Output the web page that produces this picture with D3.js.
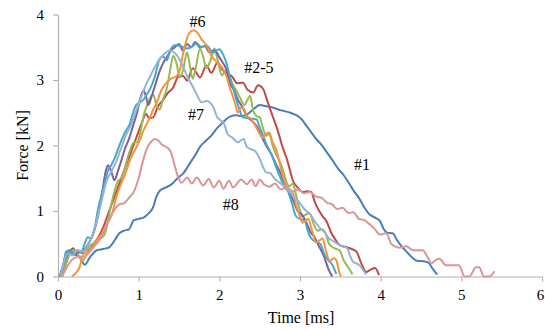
<!DOCTYPE html>
<html>
<head>
<meta charset="utf-8">
<script src="https://cdn.jsdelivr.net/npm/d3@7/dist/d3.min.js"></script>
<style>
  body { margin: 0; background: #fff; }
  text { font-family: "Liberation Serif", "Times New Roman", serif; fill: #000; }
</style>
</head>
<body>
<div id="chart"></div>
<script>
// force-time curves, [time ms, force kN]
var s1 = [[0.02,0],[0.08,0.22],[0.14,0.36],[0.2,0.34],[0.27,0.3],[0.33,0.18],[0.4,0.3],[0.48,0.4],[0.56,0.42],[0.64,0.45],[0.7,0.55],[0.76,0.66],[0.82,0.7],[0.88,0.72],[0.94,0.86],[1.0,0.88],[1.06,0.9],[1.12,0.96],[1.18,1.06],[1.22,1.22],[1.27,1.32],[1.34,1.36],[1.42,1.42],[1.48,1.5],[1.55,1.57],[1.63,1.72],[1.7,1.85],[1.76,1.98],[1.83,2.07],[1.9,2.15],[1.97,2.26],[2.05,2.36],[2.13,2.44],[2.21,2.46],[2.28,2.45],[2.34,2.47],[2.42,2.55],[2.5,2.62],[2.58,2.6],[2.66,2.58],[2.73,2.55],[2.79,2.53],[2.88,2.5],[2.96,2.46],[3.02,2.4],[3.08,2.3],[3.14,2.2],[3.2,2.1],[3.26,2.02],[3.33,1.9],[3.4,1.78],[3.47,1.65],[3.54,1.55],[3.61,1.42],[3.67,1.3],[3.73,1.2],[3.8,1.05],[3.86,0.95],[3.93,0.9],[3.99,0.85],[4.04,0.72],[4.08,0.67],[4.15,0.66],[4.2,0.56],[4.26,0.46],[4.32,0.38],[4.39,0.29],[4.45,0.24],[4.55,0.23],[4.6,0.2],[4.65,0.11],[4.7,0.03]];
var s2 = [[0.05,0],[0.1,0.2],[0.15,0.38],[0.19,0.43],[0.23,0.35],[0.28,0.38],[0.33,0.42],[0.38,0.4],[0.44,0.5],[0.5,0.6],[0.56,0.75],[0.62,0.95],[0.68,1.15],[0.74,1.35],[0.8,1.55],[0.86,1.75],[0.92,1.95],[0.98,2.15],[1.04,2.35],[1.09,2.48],[1.13,2.42],[1.18,2.43],[1.24,2.6],[1.3,2.69],[1.36,2.8],[1.43,2.89],[1.49,3.05],[1.55,3.06],[1.6,2.99],[1.67,3.18],[1.76,3.04],[1.84,3.22],[1.9,3.11],[1.98,3.27],[2.04,3.15],[2.1,3.1],[2.16,3.05],[2.22,2.95],[2.29,2.96],[2.35,2.85],[2.42,2.81],[2.48,2.92],[2.54,2.87],[2.6,2.66],[2.66,2.45],[2.71,2.28],[2.75,2.12],[2.79,1.95],[2.83,1.82],[2.87,1.65],[2.91,1.47],[2.97,1.36],[3.03,1.29],[3.09,1.3],[3.14,1.29],[3.18,1.15],[3.22,1.04],[3.28,0.92],[3.33,0.84],[3.39,0.66],[3.44,0.56],[3.49,0.48],[3.57,0.45],[3.64,0.42],[3.7,0.38],[3.76,0.2],[3.82,0.07],[3.87,0.1],[3.93,0.13],[3.98,0.02]];
var s3 = [[0.05,0],[0.1,0.2],[0.15,0.35],[0.2,0.4],[0.25,0.33],[0.3,0.24],[0.34,0.3],[0.38,0.45],[0.43,0.5],[0.48,0.55],[0.53,0.58],[0.58,0.65],[0.62,0.85],[0.66,1.1],[0.7,1.3],[0.74,1.45],[0.78,1.5],[0.82,1.62],[0.86,1.8],[0.9,1.95],[0.94,2.05],[0.98,2.05],[1.02,2.2],[1.06,2.45],[1.1,2.6],[1.14,2.72],[1.18,2.78],[1.22,2.62],[1.26,2.55],[1.3,2.7],[1.35,2.88],[1.39,3.15],[1.43,3.37],[1.47,3.25],[1.51,3.04],[1.55,3.15],[1.6,3.42],[1.63,3.25],[1.67,3.02],[1.71,3.2],[1.76,3.48],[1.8,3.35],[1.84,3.18],[1.89,3.3],[1.94,3.48],[1.98,3.3],[2.03,3.07],[2.08,3.15],[2.13,3.04],[2.17,2.92],[2.21,2.84],[2.26,2.72],[2.31,2.62],[2.35,2.7],[2.38,2.76],[2.42,2.53],[2.46,2.45],[2.5,2.43],[2.54,2.27],[2.58,2.15],[2.62,2.18],[2.66,2.0],[2.71,1.85],[2.75,1.75],[2.79,1.62],[2.83,1.45],[2.87,1.38],[2.91,1.42],[2.95,1.25],[2.99,1.05],[3.03,0.92],[3.08,0.95],[3.12,0.96],[3.17,0.8],[3.22,0.7],[3.27,0.72],[3.31,0.68],[3.36,0.5],[3.4,0.45],[3.45,0.42],[3.49,0.4],[3.54,0.25],[3.58,0.17],[3.62,0.1],[3.65,0.03]];
var s4 = [[0.02,0],[0.06,0.15],[0.1,0.35],[0.15,0.4],[0.2,0.33],[0.25,0.38],[0.3,0.36],[0.35,0.45],[0.4,0.55],[0.45,0.7],[0.5,0.95],[0.55,1.3],[0.59,1.6],[0.62,1.7],[0.66,1.6],[0.7,1.47],[0.74,1.6],[0.78,1.75],[0.83,1.95],[0.88,2.1],[0.93,2.3],[0.98,2.5],[1.02,2.72],[1.06,2.84],[1.09,2.75],[1.12,2.62],[1.16,2.75],[1.2,2.9],[1.25,3.1],[1.3,3.25],[1.35,3.35],[1.4,3.45],[1.45,3.5],[1.5,3.55],[1.55,3.45],[1.6,3.55],[1.65,3.5],[1.7,3.58],[1.76,3.5],[1.82,3.52],[1.88,3.42],[1.94,3.45],[2.0,3.35],[2.05,3.25],[2.09,3.15],[2.13,2.95],[2.18,2.85],[2.23,2.7],[2.29,2.58],[2.34,2.45],[2.4,2.38],[2.46,2.3],[2.52,2.15],[2.58,2.0],[2.64,1.88],[2.7,1.72],[2.75,1.6],[2.8,1.45],[2.86,1.3],[2.92,1.15],[2.97,1.0],[3.02,0.95],[3.08,0.82],[3.13,0.68],[3.18,0.6],[3.24,0.45],[3.3,0.3],[3.35,0.12],[3.4,0]];
var s5 = [[0.03,0],[0.07,0.2],[0.1,0.38],[0.14,0.4],[0.19,0.36],[0.24,0.4],[0.29,0.37],[0.33,0.5],[0.37,0.6],[0.41,0.58],[0.45,0.72],[0.5,1.05],[0.54,1.25],[0.58,1.43],[0.62,1.62],[0.66,1.7],[0.7,1.8],[0.77,2.03],[0.83,2.2],[0.89,2.33],[0.93,2.5],[0.97,2.62],[1.02,2.66],[1.06,2.7],[1.1,2.78],[1.14,2.86],[1.2,3.05],[1.26,3.32],[1.3,3.36],[1.35,3.3],[1.39,3.45],[1.45,3.53],[1.52,3.52],[1.59,3.48],[1.65,3.5],[1.72,3.56],[1.78,3.5],[1.84,3.53],[1.92,3.42],[2.0,3.47],[2.05,3.38],[2.09,3.25],[2.13,3.05],[2.17,2.88],[2.21,2.7],[2.25,2.55],[2.29,2.43],[2.34,2.42],[2.4,2.41],[2.46,2.4],[2.5,2.28],[2.54,2.16],[2.58,2.03],[2.62,1.93],[2.66,1.82],[2.71,1.65],[2.76,1.5],[2.8,1.38],[2.85,1.3],[2.9,1.12],[2.95,0.92],[3.0,0.88],[3.06,0.85],[3.1,0.68],[3.14,0.58],[3.2,0.53],[3.25,0.5],[3.3,0.35],[3.35,0.25],[3.4,0.18],[3.45,0.04]];
var s6 = [[0.17,0],[0.22,0.05],[0.27,0.15],[0.3,0.3],[0.33,0.36],[0.38,0.38],[0.42,0.44],[0.46,0.5],[0.5,0.58],[0.54,0.65],[0.58,0.75],[0.63,0.85],[0.67,0.96],[0.7,1.1],[0.73,1.24],[0.77,1.38],[0.8,1.47],[0.85,1.62],[0.89,1.77],[0.93,1.88],[0.97,1.97],[1.02,2.1],[1.06,2.23],[1.1,2.33],[1.14,2.43],[1.18,2.55],[1.22,2.64],[1.28,2.84],[1.34,2.95],[1.4,3.02],[1.46,3.05],[1.51,3.15],[1.55,3.4],[1.59,3.6],[1.63,3.72],[1.68,3.76],[1.73,3.72],[1.78,3.62],[1.84,3.53],[1.9,3.37],[1.97,3.27],[2.04,3.18],[2.09,3.05],[2.13,2.88],[2.17,2.74],[2.2,2.62],[2.23,2.5],[2.27,2.58],[2.31,2.55],[2.34,2.45],[2.4,2.4],[2.46,2.27],[2.5,2.18],[2.54,2.12],[2.58,2.18],[2.62,2.2],[2.66,2.05],[2.71,1.92],[2.75,1.72],[2.79,1.52],[2.83,1.38],[2.87,1.32],[2.91,1.28],[2.95,1.1],[2.99,0.95],[3.03,0.82],[3.07,0.85],[3.1,0.88],[3.15,0.7],[3.2,0.52],[3.24,0.55],[3.28,0.58],[3.32,0.4],[3.37,0.24],[3.42,0.28],[3.45,0.25],[3.49,0.05],[3.51,0]];
var s7 = [[0.03,0],[0.08,0.25],[0.12,0.35],[0.18,0.32],[0.24,0.4],[0.3,0.38],[0.36,0.45],[0.42,0.6],[0.48,0.85],[0.54,1.15],[0.6,1.45],[0.66,1.6],[0.72,1.75],[0.78,1.95],[0.84,2.15],[0.9,2.3],[0.96,2.5],[1.02,2.7],[1.08,2.9],[1.14,3.05],[1.2,3.2],[1.26,3.32],[1.32,3.4],[1.38,3.45],[1.44,3.42],[1.5,3.33],[1.55,3.2],[1.6,3.06],[1.67,2.9],[1.72,2.78],[1.78,2.66],[1.84,2.68],[1.92,2.6],[1.97,2.44],[2.02,2.38],[2.06,2.33],[2.1,2.18],[2.16,2.12],[2.23,2.05],[2.3,2.1],[2.34,1.98],[2.38,1.95],[2.44,1.92],[2.5,1.8],[2.54,1.68],[2.58,1.59],[2.63,1.58],[2.68,1.5],[2.75,1.43],[2.83,1.34],[2.88,1.28],[2.93,1.2],[2.98,1.15],[3.04,1.05],[3.08,1.0],[3.12,0.96],[3.18,0.85],[3.24,0.75],[3.3,0.68],[3.36,0.58],[3.4,0.55],[3.46,0.5],[3.52,0.46],[3.58,0.44],[3.62,0.32],[3.66,0.22],[3.7,0.2],[3.74,0.17],[3.78,0.1],[3.82,0.03]];
var s8 = [[0.05,0],[0.1,0.12],[0.17,0.25],[0.25,0.3],[0.32,0.3],[0.38,0.36],[0.45,0.46],[0.52,0.57],[0.58,0.72],[0.64,0.88],[0.7,1.02],[0.76,1.1],[0.82,1.12],[0.88,1.2],[0.95,1.32],[1.0,1.5],[1.05,1.75],[1.1,1.95],[1.15,2.05],[1.2,2.1],[1.24,2.08],[1.29,2.01],[1.35,1.97],[1.4,1.9],[1.44,1.72],[1.48,1.55],[1.53,1.43],[1.6,1.51],[1.66,1.42],[1.72,1.51],[1.8,1.39],[1.87,1.49],[1.93,1.36],[2.0,1.46],[2.05,1.34],[2.12,1.46],[2.17,1.36],[2.27,1.48],[2.34,1.41],[2.4,1.48],[2.45,1.38],[2.5,1.48],[2.56,1.4],[2.62,1.37],[2.69,1.42],[2.76,1.33],[2.84,1.36],[2.91,1.3],[2.98,1.33],[3.05,1.27],[3.12,1.29],[3.2,1.22],[3.27,1.2],[3.33,1.13],[3.4,1.1],[3.46,1.03],[3.53,1.05],[3.6,0.97],[3.66,0.98],[3.73,0.88],[3.8,0.86],[3.86,0.8],[3.93,0.72],[3.99,0.64],[4.07,0.66],[4.13,0.5],[4.18,0.46],[4.23,0.44],[4.32,0.46],[4.4,0.4],[4.52,0.4],[4.58,0.3],[4.63,0.2],[4.68,0.25],[4.73,0.27],[4.81,0.17],[4.97,0.17],[5.04,0],[5.1,0],[5.18,0.14],[5.22,0.14],[5.28,0],[5.35,0],[5.41,0.08]];

var seriesNames = ["#1","#2","#3","#4","#5","#6","#7","#8"];
var seriesData = [s1, s2, s3, s4, s5, s6, s7, s8];
var seriesColors = ["#4a7ebb","#be4b48","#98b954","#7d60a0","#46aac5","#f69240","#95b3d7","#d99694"];

var xTicks = [0,1,2,3,4,5,6];
var yTicks = [0,1,2,3,4];

// text labels placed on the plot, [text, time, force]
var annotations = [["#6",1.73,3.81],["#2-5",2.49,3.11],["#7",1.71,2.39],["#1",3.77,1.63],["#8",2.14,1.02]];

var margin = {top: 14.5, right: 3, bottom: 53.5, left: 58},
    width = 545 - margin.left - margin.right,
    height = 330 - margin.top - margin.bottom;

var svg = d3.select("#chart")
  .append("svg")
  .attr("width", 545)
  .attr("height", 330)
  .append("g")
  .attr("transform", "translate(" + margin.left + "," + margin.top + ")");

var x = d3.scaleLinear().domain([0,6]).range([0, width]);
var y = d3.scaleLinear().domain([0,4]).range([height, 0]);

var xAxis = svg.append("g")
  .attr("transform", "translate(0," + height + ")")
  .call(d3.axisBottom(x).tickValues(xTicks).tickSize(5).tickSizeOuter(0).tickPadding(8).tickFormat(d3.format("d")));

var yAxis = svg.append("g")
  .call(d3.axisLeft(y).tickValues(yTicks).tickSize(5).tickSizeOuter(0).tickPadding(9).tickFormat(d3.format("d")));

[xAxis, yAxis].forEach(function(a){
  a.attr("font-family", null);
  a.selectAll("path, line").attr("stroke", "#b4b4b4").attr("stroke-width", 1.2);
  a.selectAll("text").style("font-size", "15px").attr("fill", "#000")
    .style("font-family", "'Liberation Serif', 'Times New Roman', serif");
});

// keep the last x label inside the frame
xAxis.selectAll(".tick:last-of-type text").attr("dx", -2);

var line = d3.line()
  .x(function(d){ return x(d[0]) })
  .y(function(d){ return y(d[1]) })
  .curve(d3.curveMonotoneX);

svg.selectAll("curves")
  .data(seriesData)
  .enter()
  .append("path")
  .attr("d", function(d){ return line(d) })
  .attr("stroke", function(d,i){ return seriesColors[i] })
  .attr("fill", "none")
  .attr("stroke-width", 2)
  .attr("stroke-linejoin", "round");

svg.selectAll("labels")
  .data(annotations)
  .enter()
  .append("text")
  .attr("x", function(d){ return x(d[1]) })
  .attr("y", function(d){ return y(d[2]) })
  .attr("text-anchor", "middle")
  .style("font-size", "16px")
  .style("font-family", "'Liberation Serif', 'Times New Roman', serif")
  .text(function(d){ return d[0] });

// axis titles
svg.append("text")
  .attr("x", width/2 + 1)
  .attr("y", height + 46)
  .attr("text-anchor", "middle")
  .style("font-size", "16px")
  .text("Time [ms]");

svg.append("text")
  .attr("transform", "translate(" + (-30) + "," + (height/2) + ") rotate(-90)")
  .attr("text-anchor", "middle")
  .style("font-size", "16px")
  .text("Force [kN]");
</script>
</body>
</html>
